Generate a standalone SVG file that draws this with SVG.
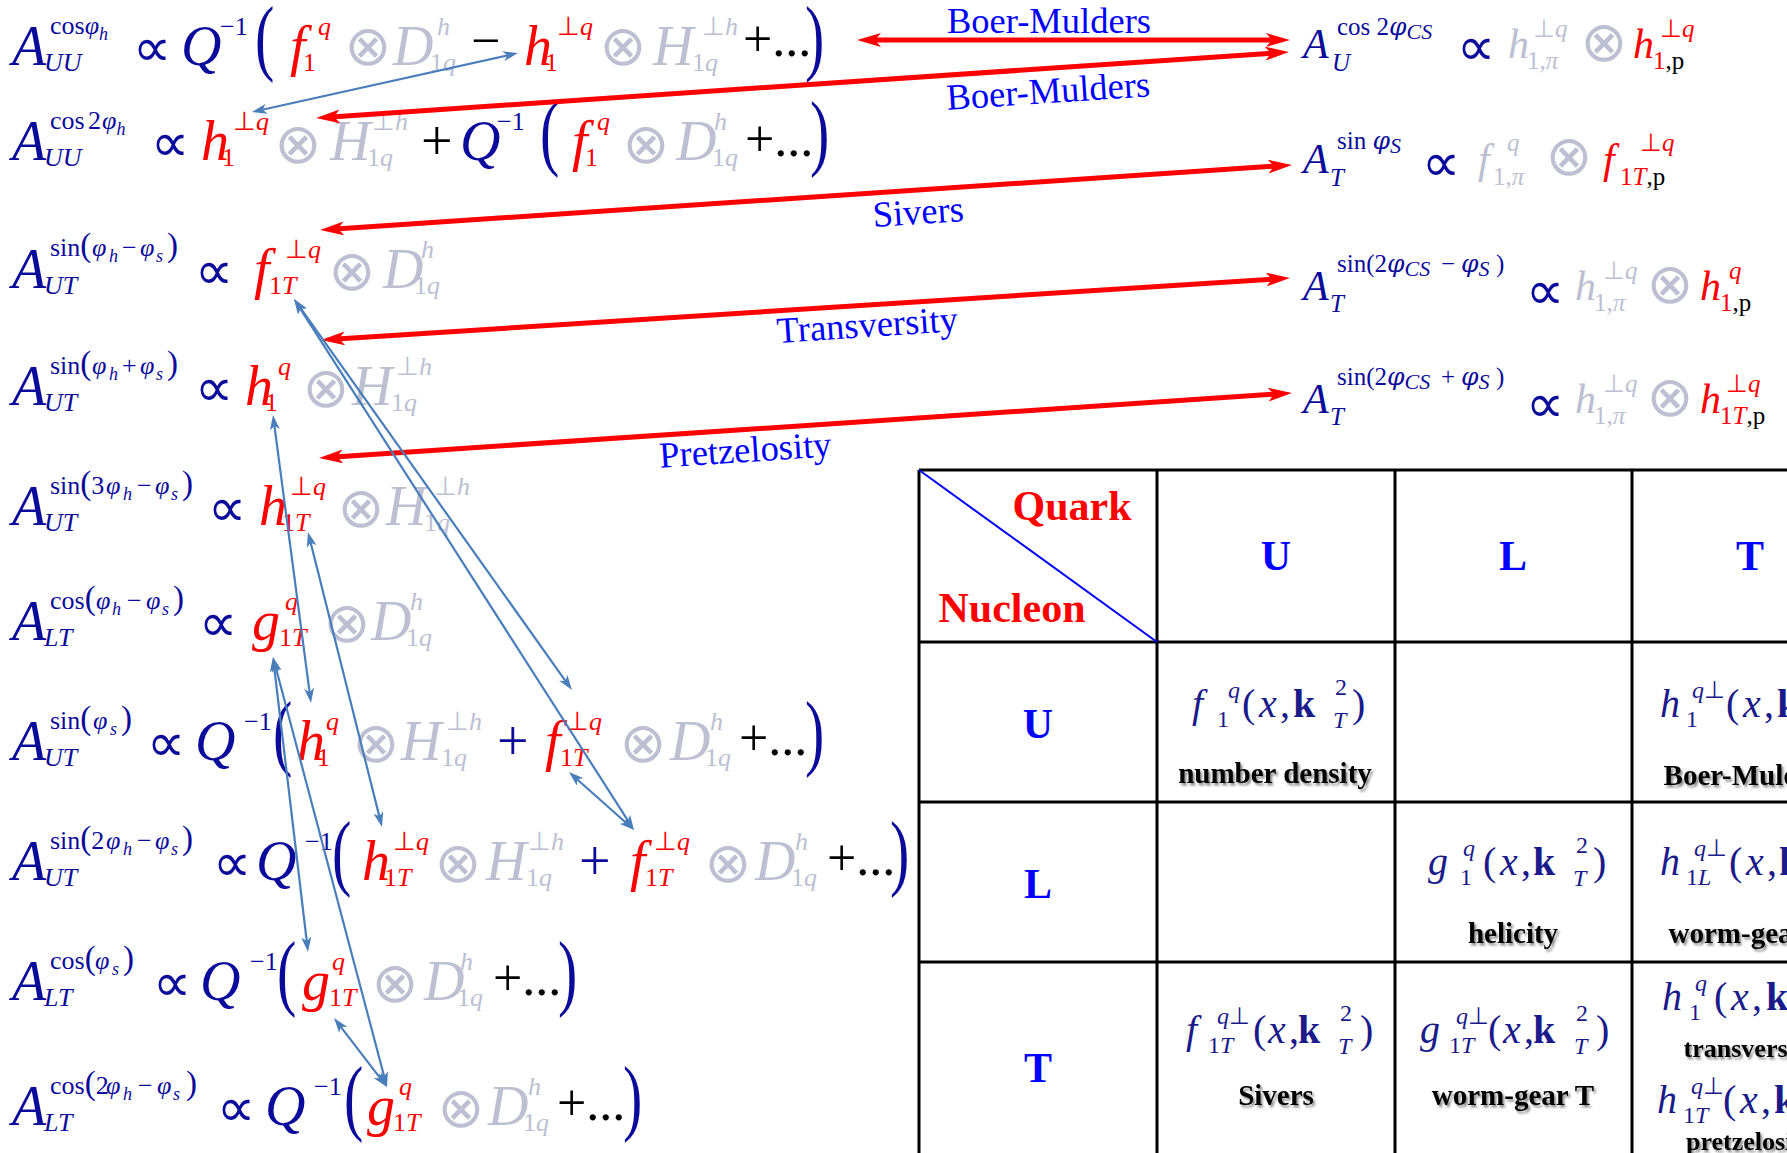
<svg xmlns="http://www.w3.org/2000/svg" width="1787" height="1153" viewBox="0 0 1787 1153">
<defs>
<style>
text{font-family:"Liberation Serif","Times New Roman",serif}
.i{font-style:italic}
.b{font-weight:bold}
.n{fill:#0b0b9b}
.r{fill:#ff0000}
.g{fill:#bcc0d2}
.k{fill:#000}
.M{font-size:56px}
.S{font-size:26px}
.s{font-size:18px}
.sp{font-size:33px}
.P{font-size:58px}
.op{font-family:"DejaVu Sans",sans-serif;text-anchor:middle;dominant-baseline:central}
.ox{font-size:56px}
.px{font-size:54px}
.M2{font-size:42px}
.S2{font-size:25px}
.vp{font-family:"DejaVu Serif",serif;font-style:italic}
.lab{font-size:36.5px;fill:#0000ff;text-anchor:middle}
.hd{font-weight:bold;font-size:42px;text-anchor:middle}
.bl{fill:#0000ff}
.tf{font-size:40px;fill:#1a1a8a}
.ts{font-size:24px}
.cl{font-weight:bold;font-size:29px;text-anchor:middle;fill:#000;filter:url(#sh)}
.grid{stroke:#000;stroke-width:3;fill:none}
.ra{stroke:#ff0000;stroke-width:5;fill:none;marker-start:url(#mr);marker-end:url(#mr)}
.ba{stroke:#4a7ebb;stroke-width:2.2;fill:none;marker-start:url(#mb);marker-end:url(#mb)}
</style>
<marker id="mr" markerUnits="userSpaceOnUse" viewBox="0 0 24 14" markerWidth="24" markerHeight="14" refX="12" refY="7" orient="auto-start-reverse"><path d="M0,0 L24,7 L0,14 L6,7 Z" fill="#ff0000"/></marker>
<marker id="mb" markerUnits="userSpaceOnUse" viewBox="0 0 15 10" markerWidth="15" markerHeight="10" refX="8" refY="5" orient="auto-start-reverse"><path d="M0,0 L15,5 L0,10 L4,5 Z" fill="#4a7ebb"/></marker>
<filter id="sh" x="-10%" y="-30%" width="130%" height="180%"><feDropShadow dx="2" dy="2.5" stdDeviation="1.2" flood-color="#000" flood-opacity="0.45"/></filter>
</defs>
<rect width="1787" height="1153" fill="#fff"/>

<!-- table -->
<g id="table">
<path class="grid" d="M919,470 H1787 M919,642 H1787 M919,802 H1787 M919,962 H1787 M919,470 V1153 M1157,470 V1153 M1395,470 V1153 M1632,470 V1153"/>
<path d="M919,470 L1157,642" stroke="#0000ff" stroke-width="2" fill="none"/>
<text class="hd r" x="1072" y="520">Quark</text>
<text class="hd r" x="1012" y="622">Nucleon</text>
<text class="hd bl" x="1276" y="570">U</text>
<text class="hd bl" x="1513" y="570">L</text>
<text class="hd bl" x="1750" y="570">T</text>
<text class="hd bl" x="1038" y="738">U</text>
<text class="hd bl" x="1038" y="898">L</text>
<text class="hd bl" x="1038" y="1082">T</text>
</g>
<g id="cell-uu">
<text class="tf" y="717"><tspan class="i" x="1192">f</tspan><tspan class="ts" x="1217" dy="10">1</tspan><tspan class="ts i" x="1228" dy="-29">q</tspan><tspan x="1242" dy="19">(</tspan><tspan class="i" x="1259">x</tspan><tspan x="1280">,</tspan><tspan class="b" x="1293">k</tspan><tspan class="ts" x="1335" dy="-22">2</tspan><tspan class="ts i" x="1333" dy="33">T</tspan><tspan x="1352" dy="-11">)</tspan></text>
<text class="cl" x="1275" y="783">number density</text>
</g>
<g id="cell-ut">
<text class="tf" y="717"><tspan class="i" x="1660">h</tspan><tspan class="ts" x="1686" dy="10">1</tspan><tspan class="ts" x="1692" dy="-29"><tspan class="i">q</tspan>⊥</tspan><tspan x="1726" dy="19">(</tspan><tspan class="i" x="1743">x</tspan><tspan x="1764">,</tspan><tspan class="b" x="1777">k</tspan><tspan class="ts" x="1819" dy="-22">2</tspan><tspan class="ts i" x="1817" dy="33">T</tspan><tspan x="1836" dy="-11">)</tspan></text>
<text class="cl" x="1750" y="785">Boer-Mulders</text>
</g>
<g id="cell-ll">
<text class="tf" y="875"><tspan class="i" x="1428">g</tspan><tspan class="ts" x="1460" dy="10">1</tspan><tspan class="ts i" x="1463" dy="-29">q</tspan><tspan x="1483" dy="19">(</tspan><tspan class="i" x="1500">x</tspan><tspan x="1521">,</tspan><tspan class="b" x="1533">k</tspan><tspan class="ts" x="1576" dy="-22">2</tspan><tspan class="ts i" x="1573" dy="33">T</tspan><tspan x="1593" dy="-11">)</tspan></text>
<text class="cl" x="1513" y="943">helicity</text>
</g>
<g id="cell-lt">
<text class="tf" y="875"><tspan class="i" x="1660">h</tspan><tspan class="ts" x="1686" dy="10">1<tspan class="i">L</tspan></tspan><tspan class="ts" x="1694" dy="-29"><tspan class="i">q</tspan>⊥</tspan><tspan x="1729" dy="19">(</tspan><tspan class="i" x="1746">x</tspan><tspan x="1767">,</tspan><tspan class="b" x="1779">k</tspan><tspan class="ts" x="1821" dy="-22">2</tspan><tspan class="ts i" x="1819" dy="33">T</tspan><tspan x="1838" dy="-11">)</tspan></text>
<text class="cl" x="1750" y="943">worm-gear L</text>
</g>
<g id="cell-tu">
<text class="tf" y="1043"><tspan class="i" x="1186">f</tspan><tspan class="ts" x="1208" dy="10">1<tspan class="i">T</tspan></tspan><tspan class="ts" x="1217" dy="-29"><tspan class="i">q</tspan>⊥</tspan><tspan x="1253" dy="19">(</tspan><tspan class="i" x="1268">x</tspan><tspan x="1289">,</tspan><tspan class="b" x="1298">k</tspan><tspan class="ts" x="1340" dy="-22">2</tspan><tspan class="ts i" x="1338" dy="33">T</tspan><tspan x="1360" dy="-11">)</tspan></text>
<text class="cl" x="1276" y="1105">Sivers</text>
</g>
<g id="cell-tl">
<text class="tf" y="1043"><tspan class="i" x="1420">g</tspan><tspan class="ts" x="1449" dy="10">1<tspan class="i">T</tspan></tspan><tspan class="ts" x="1456" dy="-29"><tspan class="i">q</tspan>⊥</tspan><tspan x="1488" dy="19">(</tspan><tspan class="i" x="1503">x</tspan><tspan x="1524">,</tspan><tspan class="b" x="1533">k</tspan><tspan class="ts" x="1576" dy="-22">2</tspan><tspan class="ts i" x="1574" dy="33">T</tspan><tspan x="1596" dy="-11">)</tspan></text>
<text class="cl" x="1513" y="1105">worm-gear T</text>
</g>
<g id="cell-tt">
<text class="tf" y="1010"><tspan class="i" x="1662">h</tspan><tspan class="ts" x="1689" dy="10">1</tspan><tspan class="ts i" x="1695" dy="-29">q</tspan><tspan x="1714" dy="19">(</tspan><tspan class="i" x="1731">x</tspan><tspan x="1752">,</tspan><tspan class="b" x="1766">k</tspan><tspan class="ts" x="1808" dy="-22">2</tspan><tspan class="ts i" x="1806" dy="33">T</tspan><tspan x="1826" dy="-11">)</tspan></text>
<text class="cl" x="1750" y="1057" style="font-size:26px">transversity</text>
<text class="tf" y="1113"><tspan class="i" x="1657">h</tspan><tspan class="ts" x="1683" dy="10">1<tspan class="i">T</tspan></tspan><tspan class="ts" x="1691" dy="-29"><tspan class="i">q</tspan>⊥</tspan><tspan x="1723" dy="19">(</tspan><tspan class="i" x="1740">x</tspan><tspan x="1761">,</tspan><tspan class="b" x="1774">k</tspan><tspan class="ts" x="1816" dy="-22">2</tspan><tspan class="ts i" x="1814" dy="33">T</tspan><tspan x="1834" dy="-11">)</tspan></text>
<text class="cl" x="1750" y="1150" style="font-size:26px">pretzelosity</text>
</g>

<!-- left equations -->
<g id="eq1">
<text class="n i M" x="12" y="65">A</text>
<text class="n S" x="50" y="34">cos<tspan class="i">φ</tspan><tspan class="s i" dy="6">h</tspan></text>
<text class="n i S" x="44" y="71">UU</text>
<text class="op n px" x="152" y="47">∝</text>
<text class="n i M" x="181" y="65">Q</text>
<text class="n S" x="220" y="35">−1</text>
<text class="n P" transform="translate(255 65) scale(1 1.45)">(</text>
<text class="r i M" x="290" y="65">f</text>
<text class="r S" x="303" y="71">1</text>
<text class="r i S" x="318" y="35">q</text>
<text class="op g ox" x="368" y="45">⊗</text>
<text class="g i M" x="393" y="65">D</text>
<text class="g i S" x="437" y="35">h</text>
<text class="g S" x="430" y="71">1<tspan class="i">q</tspan></text>
<text class="k" x="471" y="58" font-size="52">−</text>
<text class="r i M" x="524" y="65">h</text>
<text class="r S" x="545" y="71">1</text>
<text class="r S" x="557" y="35">⊥<tspan class="i">q</tspan></text>
<text class="op g ox" x="623" y="45">⊗</text>
<text class="g i M" x="653" y="65">H</text>
<text class="g S" x="702" y="35">⊥<tspan class="i">h</tspan></text>
<text class="g S" x="692" y="71">1<tspan class="i">q</tspan></text>
<text class="k" x="743" y="56" font-size="52">+...</text>
<text class="n P" transform="translate(805 65) scale(1 1.45)">)</text>
</g>
<g id="eq2">
<text class="n i M" x="12" y="160">A</text>
<text class="n S" y="129"><tspan x="50">cos</tspan><tspan x="88">2</tspan><tspan class="i" x="102">φ</tspan><tspan class="s i" dy="6">h</tspan></text>
<text class="n i S" x="44" y="166">UU</text>
<text class="op n px" x="170" y="142">∝</text>
<text class="r i M" x="201" y="160">h</text>
<text class="r S" x="222" y="166">1</text>
<text class="r S" x="233" y="130">⊥<tspan class="i">q</tspan></text>
<text class="op g ox" x="298" y="143">⊗</text>
<text class="g i M" x="330" y="160">H</text>
<text class="g S" x="372" y="130">⊥<tspan class="i">h</tspan></text>
<text class="g S" x="367" y="166">1<tspan class="i">q</tspan></text>
<text class="k M" x="421" y="160">+</text>
<text class="n i M" x="460" y="160">Q</text>
<text class="n S" x="497" y="130">−1</text>
<text class="n P" transform="translate(540 160) scale(1 1.45)">(</text>
<text class="r i M" x="572" y="160">f</text>
<text class="r S" x="585" y="166">1</text>
<text class="r i S" x="597" y="130">q</text>
<text class="op g ox" x="646" y="143">⊗</text>
<text class="g i M" x="676" y="160">D</text>
<text class="g i S" x="714" y="130">h</text>
<text class="g S" x="712" y="166">1<tspan class="i">q</tspan></text>
<text class="k" x="745" y="156" font-size="52">+...</text>
<text class="n P" transform="translate(810 160) scale(1 1.45)">)</text>
</g>
<g id="eq3">
<text class="n i M" x="12" y="288">A</text>
<text class="n S" y="256"><tspan x="50">sin</tspan><tspan class="sp">(</tspan><tspan class="i" x="92">φ</tspan><tspan class="s i" x="109" dy="6">h</tspan><tspan x="122" dy="-6">−</tspan><tspan class="i" x="140">φ</tspan><tspan class="s i" x="156" dy="6">s</tspan><tspan x="167" dy="-6" class="sp">)</tspan></text>
<text class="n i S" x="44" y="294">UT</text>
<text class="op n px" x="214" y="270">∝</text>
<text class="r i M" x="254" y="288">f</text>
<text class="r S" x="269" y="294">1<tspan class="i">T</tspan></text>
<text class="r S" x="285" y="258">⊥<tspan class="i">q</tspan></text>
<text class="op g ox" x="352" y="270">⊗</text>
<text class="g i M" x="383" y="288">D</text>
<text class="g i S" x="421" y="258">h</text>
<text class="g S" x="414" y="294">1<tspan class="i">q</tspan></text>
</g>
<g id="eq4">
<text class="n i M" x="12" y="405">A</text>
<text class="n S" y="374"><tspan x="50">sin</tspan><tspan class="sp">(</tspan><tspan class="i" x="92">φ</tspan><tspan class="s i" x="109" dy="6">h</tspan><tspan x="122" dy="-6">+</tspan><tspan class="i" x="140">φ</tspan><tspan class="s i" x="156" dy="6">s</tspan><tspan x="167" dy="-6" class="sp">)</tspan></text>
<text class="n i S" x="44" y="411">UT</text>
<text class="op n px" x="214" y="387">∝</text>
<text class="r i M" x="245" y="405">h</text>
<text class="r S" x="265" y="411">1</text>
<text class="r i S" x="278" y="375">q</text>
<text class="op g ox" x="326" y="387">⊗</text>
<text class="g i M" x="352" y="405">H</text>
<text class="g S" x="396" y="375">⊥<tspan class="i">h</tspan></text>
<text class="g S" x="391" y="411">1<tspan class="i">q</tspan></text>
</g>
<g id="eq5">
<text class="n i M" x="12" y="525">A</text>
<text class="n S" y="494"><tspan x="50">sin</tspan><tspan class="sp">(</tspan>3<tspan class="i" x="106">φ</tspan><tspan class="s i" x="123" dy="6">h</tspan><tspan x="137" dy="-6">−</tspan><tspan class="i" x="155">φ</tspan><tspan class="s i" x="171" dy="6">s</tspan><tspan x="182" dy="-6" class="sp">)</tspan></text>
<text class="n i S" x="44" y="531">UT</text>
<text class="op n px" x="227" y="507">∝</text>
<text class="r i M" x="259" y="525">h</text>
<text class="r S" x="282" y="531">1<tspan class="i">T</tspan></text>
<text class="r S" x="290" y="495">⊥<tspan class="i">q</tspan></text>
<text class="op g ox" x="361" y="507">⊗</text>
<text class="g i M" x="386" y="525">H</text>
<text class="g S" x="434" y="495">⊥<tspan class="i">h</tspan></text>
<text class="g S" x="424" y="531">1<tspan class="i">q</tspan></text>
</g>
<g id="eq6">
<text class="n i M" x="12" y="640">A</text>
<text class="n S" y="609"><tspan x="50">cos</tspan><tspan class="sp">(</tspan><tspan class="i" x="96">φ</tspan><tspan class="s i" x="112" dy="6">h</tspan><tspan x="127" dy="-6">−</tspan><tspan class="i" x="146">φ</tspan><tspan class="s i" x="162" dy="6">s</tspan><tspan x="173" dy="-6" class="sp">)</tspan></text>
<text class="n i S" x="44" y="646">LT</text>
<text class="op n px" x="218" y="622">∝</text>
<text class="r i M" x="252" y="640">g</text>
<text class="r S" x="279" y="646">1<tspan class="i">T</tspan></text>
<text class="r i S" x="285" y="610">q</text>
<text class="op g ox" x="347" y="622">⊗</text>
<text class="g i M" x="371" y="640">D</text>
<text class="g i S" x="410" y="610">h</text>
<text class="g S" x="406" y="646">1<tspan class="i">q</tspan></text>
</g>
<g id="eq7">
<text class="n i M" x="12" y="760">A</text>
<text class="n S" y="729"><tspan x="50">sin</tspan><tspan class="sp">(</tspan><tspan class="i" x="93">φ</tspan><tspan class="s i" x="110" dy="6">s</tspan><tspan x="121" dy="-6" class="sp">)</tspan></text>
<text class="n i S" x="44" y="766">UT</text>
<text class="op n px" x="166" y="742">∝</text>
<text class="n i M" x="195" y="760">Q</text>
<text class="n S" x="244" y="730">−1</text>
<text class="n P" transform="translate(273 760) scale(1 1.45)">(</text>
<text class="r i M" x="297" y="760">h</text>
<text class="r S" x="317" y="766">1</text>
<text class="r i S" x="326" y="730">q</text>
<text class="op g ox" x="376" y="742">⊗</text>
<text class="g i M" x="401" y="760">H</text>
<text class="g S" x="446" y="730">⊥<tspan class="i">h</tspan></text>
<text class="g S" x="441" y="766">1<tspan class="i">q</tspan></text>
<text class="n M" x="497" y="760">+</text>
<text class="r i M" x="545" y="760">f</text>
<text class="r S" x="560" y="766">1<tspan class="i">T</tspan></text>
<text class="r S" x="566" y="730">⊥<tspan class="i">q</tspan></text>
<text class="op g ox" x="643" y="742">⊗</text>
<text class="g i M" x="670" y="760">D</text>
<text class="g i S" x="710" y="730">h</text>
<text class="g S" x="705" y="766">1<tspan class="i">q</tspan></text>
<text class="k" x="739" y="755" font-size="52">+...</text>
<text class="n P" transform="translate(805 760) scale(1 1.45)">)</text>
</g>
<g id="eq8">
<text class="n i M" x="12" y="880">A</text>
<text class="n S" y="849"><tspan x="50">sin</tspan><tspan class="sp">(</tspan>2<tspan class="i" x="106">φ</tspan><tspan class="s i" x="123" dy="6">h</tspan><tspan x="137" dy="-6">−</tspan><tspan class="i" x="155">φ</tspan><tspan class="s i" x="171" dy="6">s</tspan><tspan x="182" dy="-6" class="sp">)</tspan></text>
<text class="n i S" x="44" y="886">UT</text>
<text class="op n px" x="232" y="862">∝</text>
<text class="n i M" x="256" y="880">Q</text>
<text class="n S" x="305" y="850">−1</text>
<text class="n P" transform="translate(332 880) scale(1 1.45)">(</text>
<text class="r i M" x="362" y="880">h</text>
<text class="r S" x="384" y="886">1<tspan class="i">T</tspan></text>
<text class="r S" x="393" y="850">⊥<tspan class="i">q</tspan></text>
<text class="op g ox" x="458" y="862">⊗</text>
<text class="g i M" x="486" y="880">H</text>
<text class="g S" x="528" y="850">⊥<tspan class="i">h</tspan></text>
<text class="g S" x="526" y="886">1<tspan class="i">q</tspan></text>
<text class="n M" x="579" y="880">+</text>
<text class="r i M" x="630" y="880">f</text>
<text class="r S" x="645" y="886">1<tspan class="i">T</tspan></text>
<text class="r S" x="654" y="850">⊥<tspan class="i">q</tspan></text>
<text class="op g ox" x="728" y="862">⊗</text>
<text class="g i M" x="755" y="880">D</text>
<text class="g i S" x="795" y="850">h</text>
<text class="g S" x="791" y="886">1<tspan class="i">q</tspan></text>
<text class="k" x="827" y="875" font-size="52">+...</text>
<text class="n P" transform="translate(890 880) scale(1 1.45)">)</text>
</g>
<g id="eq9">
<text class="n i M" x="12" y="1000">A</text>
<text class="n S" y="969"><tspan x="50">cos</tspan><tspan class="sp">(</tspan><tspan class="i" x="95">φ</tspan><tspan class="s i" x="112" dy="6">s</tspan><tspan x="123" dy="-6" class="sp">)</tspan></text>
<text class="n i S" x="44" y="1006">LT</text>
<text class="op n px" x="172" y="982">∝</text>
<text class="n i M" x="200" y="1000">Q</text>
<text class="n S" x="250" y="970">−1</text>
<text class="n P" transform="translate(277 1000) scale(1 1.45)">(</text>
<text class="r i M" x="302" y="1000">g</text>
<text class="r S" x="329" y="1006">1<tspan class="i">T</tspan></text>
<text class="r i S" x="332" y="970">q</text>
<text class="op g ox" x="395" y="982">⊗</text>
<text class="g i M" x="424" y="1000">D</text>
<text class="g i S" x="460" y="970">h</text>
<text class="g S" x="457" y="1006">1<tspan class="i">q</tspan></text>
<text class="k" x="493" y="995" font-size="52">+...</text>
<text class="n P" transform="translate(558 1000) scale(1 1.45)">)</text>
</g>
<g id="eq10">
<text class="n i M" x="12" y="1125">A</text>
<text class="n S" y="1094"><tspan x="50">cos</tspan><tspan class="sp">(</tspan>2<tspan class="i" x="106">φ</tspan><tspan class="s i" x="123" dy="6">h</tspan><tspan x="138" dy="-6">−</tspan><tspan class="i" x="157">φ</tspan><tspan class="s i" x="173" dy="6">s</tspan><tspan x="186" dy="-6" class="sp">)</tspan></text>
<text class="n i S" x="44" y="1131">LT</text>
<text class="op n px" x="236" y="1107">∝</text>
<text class="n i M" x="265" y="1125">Q</text>
<text class="n S" x="314" y="1095">−1</text>
<text class="n P" transform="translate(344 1125) scale(1 1.45)">(</text>
<text class="r i M" x="367" y="1125">g</text>
<text class="r S" x="393" y="1131">1<tspan class="i">T</tspan></text>
<text class="r i S" x="399" y="1095">q</text>
<text class="op g ox" x="461" y="1107">⊗</text>
<text class="g i M" x="488" y="1125">D</text>
<text class="g i S" x="528" y="1095">h</text>
<text class="g S" x="523" y="1131">1<tspan class="i">q</tspan></text>
<text class="k" x="557" y="1120" font-size="52">+...</text>
<text class="n P" transform="translate(623 1125) scale(1 1.45)">)</text>
</g>

<!-- right equations -->
<g id="dy1">
<text class="n i M2" x="1303" y="58">A</text>
<text class="n S2" x="1337" y="35">cos 2<tspan class="vp">φ</tspan><tspan class="i" font-size="22" dy="4">CS</tspan></text>
<text class="n i S2" x="1332" y="71">U</text>
<text class="op n px" x="1476" y="46">∝</text>
<text class="g i M2" x="1508" y="58">h</text>
<text class="g S2" x="1533" y="37">⊥<tspan class="i">q</tspan></text>
<text class="g S2" x="1527" y="69">1,<tspan class="i">π</tspan></text>
<text class="op g ox" x="1604" y="41">⊗</text>
<text class="r i M2" x="1633" y="58">h</text>
<text class="r S2" x="1660" y="37">⊥<tspan class="i">q</tspan></text>
<text class="r S2" x="1653" y="69">1<tspan class="k">,p</tspan></text>
</g>
<g id="dy2">
<text class="n i M2" x="1303" y="173">A</text>
<text class="n S2" x="1337" y="149">sin <tspan class="vp">φ</tspan><tspan class="i" font-size="22" dy="4">S</tspan></text>
<text class="n i S2" x="1330" y="186">T</text>
<text class="op n px" x="1441" y="162">∝</text>
<text class="g i M2" x="1478" y="173">f</text>
<text class="g i S2" x="1507" y="151">q</text>
<text class="g S2" x="1493" y="185">1,<tspan class="i">π</tspan></text>
<text class="op g ox" x="1569" y="155">⊗</text>
<text class="r i M2" x="1603" y="173">f</text>
<text class="r S2" x="1640" y="151">⊥<tspan class="i">q</tspan></text>
<text class="r S2" x="1620" y="185">1<tspan class="i">T</tspan><tspan class="k">,p</tspan></text>
</g>
<g id="dy3">
<text class="n i M2" x="1303" y="300">A</text>
<text class="n S2" y="272"><tspan x="1337">sin(2</tspan><tspan class="vp" x="1387">φ</tspan><tspan class="i" font-size="22" dy="4">CS</tspan><tspan x="1441" dy="-4">−</tspan><tspan class="vp" x="1461">φ</tspan><tspan class="i" font-size="22" dy="4">S</tspan><tspan x="1496" dy="-4">)</tspan></text>
<text class="n i S2" x="1330" y="312">T</text>
<text class="op n px" x="1545" y="290">∝</text>
<text class="g i M2" x="1575" y="300">h</text>
<text class="g S2" x="1603" y="279">⊥<tspan class="i">q</tspan></text>
<text class="g S2" x="1594" y="311">1,<tspan class="i">π</tspan></text>
<text class="op g ox" x="1670" y="283">⊗</text>
<text class="r i M2" x="1700" y="300">h</text>
<text class="r i S2" x="1729" y="279">q</text>
<text class="r S2" x="1720" y="311">1<tspan class="k">,p</tspan></text>
</g>
<g id="dy4">
<text class="n i M2" x="1303" y="413">A</text>
<text class="n S2" y="385"><tspan x="1337">sin(2</tspan><tspan class="vp" x="1387">φ</tspan><tspan class="i" font-size="22" dy="4">CS</tspan><tspan x="1441" dy="-4">+</tspan><tspan class="vp" x="1461">φ</tspan><tspan class="i" font-size="22" dy="4">S</tspan><tspan x="1496" dy="-4">)</tspan></text>
<text class="n i S2" x="1330" y="425">T</text>
<text class="op n px" x="1545" y="403">∝</text>
<text class="g i M2" x="1575" y="413">h</text>
<text class="g S2" x="1603" y="392">⊥<tspan class="i">q</tspan></text>
<text class="g S2" x="1594" y="424">1,<tspan class="i">π</tspan></text>
<text class="op g ox" x="1670" y="396">⊗</text>
<text class="r i M2" x="1700" y="413">h</text>
<text class="r S2" x="1726" y="392">⊥<tspan class="i">q</tspan></text>
<text class="r S2" x="1720" y="424">1<tspan class="i">T</tspan><tspan class="k">,p</tspan></text>
</g>

<!-- connectors -->
<g id="connectors">
<path class="ra" d="M869,40 L1278,40"/>
<path class="ra" d="M328,117.2 L1277,52.8"/>
<path class="ra" d="M332,229.2 L1280,165.8"/>
<path class="ra" d="M333,339.2 L1278,278.8"/>
<path class="ra" d="M331,457.2 L1280,393.8"/>
<path class="ba" d="M258.8,110.5 L511.2,54.5"/>
<path class="ba" d="M298.1,304.7 L567.9,684.3"/>
<path class="ba" d="M297.8,304.9 L630.2,824.1"/>
<path class="ba" d="M574.2,776.7 L628.8,825.3"/>
<path class="ba" d="M273.9,421.9 L310.1,696.1"/>
<path class="ba" d="M309.7,538.8 L380.3,820.2"/>
<path class="ba" d="M273.8,664 L307.2,945"/>
<path class="ba" d="M274.8,663.8 L385.2,1080.2"/>
<path class="ba" d="M338.3,1023.6 L382.7,1081.4"/>
<text class="lab" x="1049" y="33">Boer-Mulders</text>
<text class="lab" x="1049" y="103" transform="rotate(-3.8 1049 103)">Boer-Mulders</text>
<text class="lab" x="919" y="224" transform="rotate(-3.8 919 224)">Sivers</text>
<text class="lab" x="868" y="337" transform="rotate(-3.8 868 337)">Transversity</text>
<text class="lab" x="746" y="462" transform="rotate(-3.8 746 462)">Pretzelosity</text>
</g>
</svg>
